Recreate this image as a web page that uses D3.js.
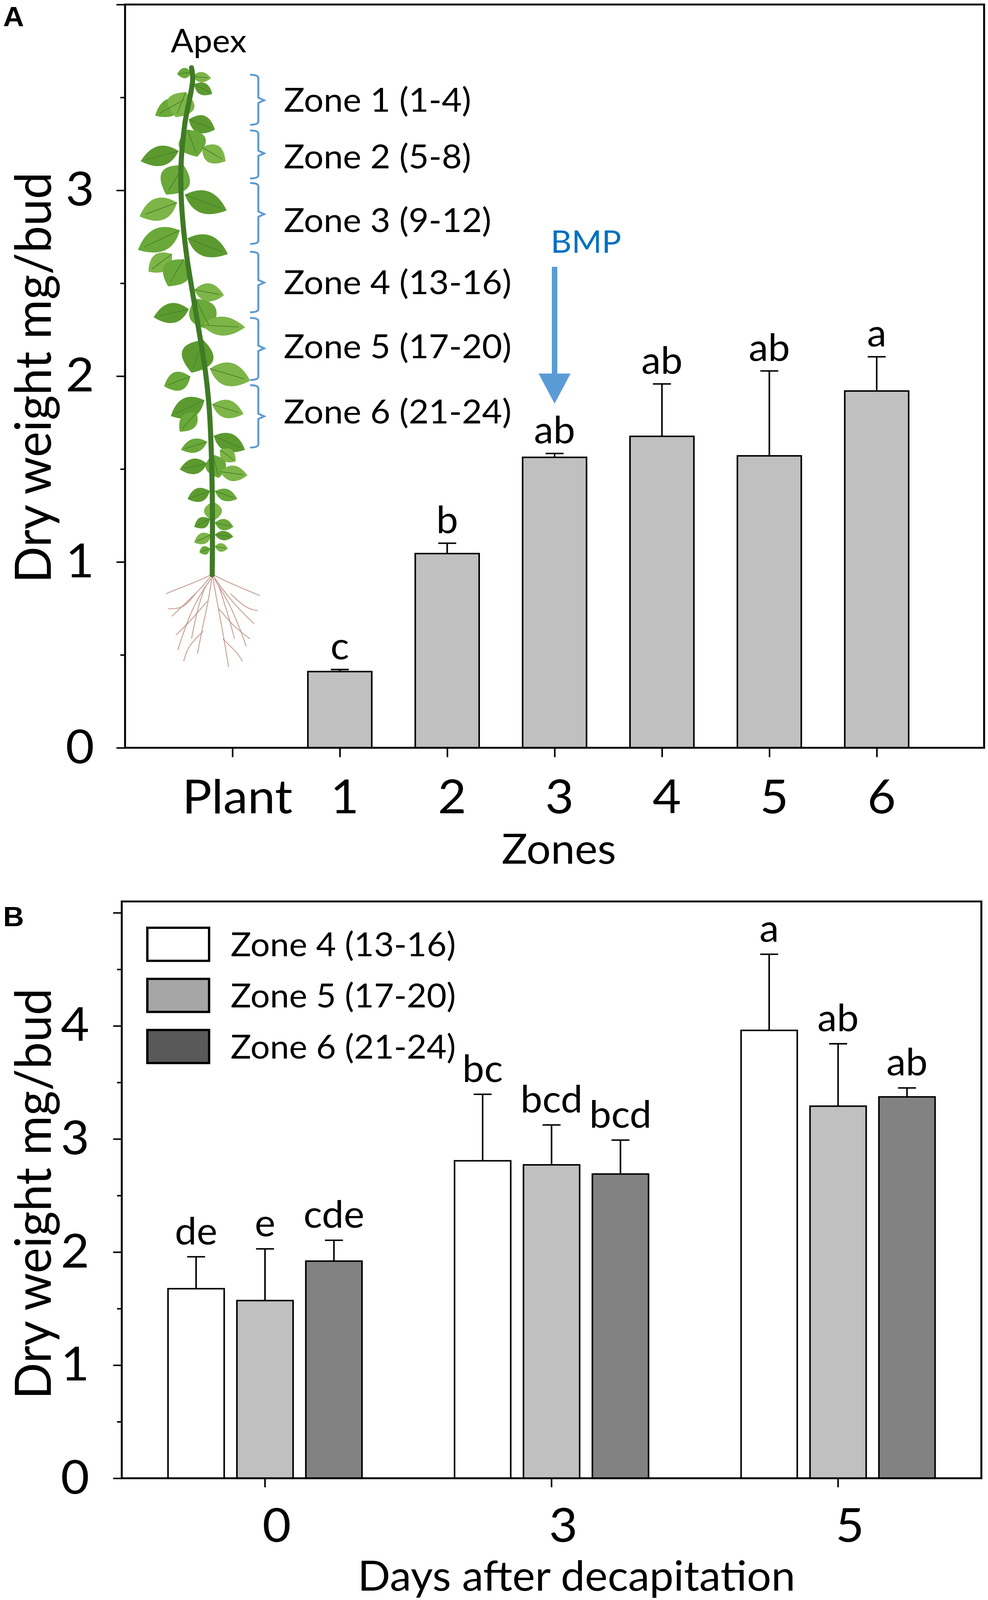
<!DOCTYPE html>
<html lang="en">
<head>
<meta charset="UTF-8">
<title>Bud dry weight</title>
<script src="https://d3js.org/d3.v7.min.js"></script>
<style>
    * { margin: 0; padding: 0; }
    html, body { background: #fff; overflow: hidden; }
    text { font-family: Lato, "Open Sans", sans-serif; fill: #000; }
    .panel-tag { font-family: "Liberation Sans", Arial, sans-serif; font-weight: bold; }
</style>
</head>
<body>
<script>
// ---- data, panel A ----
var zonesA = ["Plant", "1", "2", "3", "4", "5", "6"];
var meanA = [null, 0.41, 1.045, 1.563, 1.676, 1.571, 1.920];
var errA = [null, 0.011, 0.056, 0.021, 0.282, 0.457, 0.184];
var lettersA = ["", "c", "b", "ab", "ab", "ab", "a"];
var ticksA = [0, 1, 2, 3];
var zoneNames = ["Zone 1 (1-4)", "Zone 2 (5-8)", "Zone 3 (9-12)", "Zone 4 (13-16)", "Zone 5 (17-20)", "Zone 6 (21-24)"];

// ---- data, panel B ----
var days = ["0", "3", "5"];
var seriesB = ["Zone 4 (13-16)", "Zone 5 (17-20)", "Zone 6 (21-24)"];
var meanB = [[1.676, 1.571, 1.920], [2.807, 2.771, 2.690], [3.960, 3.290, 3.372]];
var errB = [[0.282, 0.457, 0.184], [0.588, 0.353, 0.300], [0.673, 0.552, 0.079]];
var lettersB = [["de", "e", "cde"], ["bc", "bcd", "bcd"], ["a", "ab", "ab"]];
var ticksB = [0, 1, 2, 3, 4];

// colours
var barFillB = ["#ffffff", "#c0c0c0", "#828282"];
var legendFillB = ["#ffffff", "#a6a6a6", "#595959"];
var blue = "#5b9bd5";

// ---- annotation layout for the plant sketch (pixel space) ----
var bracketRows = [[199, 332, 267], [347, 475, 408], [487, 649, 570], [670, 831, 752], [846, 1011, 927], [1025, 1191, 1108]];
var zoneBaselines = [297, 448, 618, 783, 953, 1127];
var stemPts = [[490, 180], [493, 213], [473, 329], [463, 445], [465, 550], [477, 676], [493, 781], [510, 886], [526, 992], [536, 1097], [543, 1307], [543, 1530]];
// base x, base y, tip x, tip y, width
var leaves = [
    [490, 192, 453, 197, 24], [493, 203, 540, 208, 24], [497, 224, 543, 250, 28],
    [470, 266, 397, 308, 40], [475, 245, 450, 312, 62], [483, 318, 550, 345, 42],
    [480, 345, 505, 417, 62], [517, 392, 577, 429, 44], [457, 402, 360, 429, 46],
    [470, 440, 425, 518, 68], [453, 539, 357, 576, 52], [473, 518, 580, 560, 52],
    [460, 613, 353, 665, 54], [440, 676, 380, 723, 44], [480, 634, 583, 676, 50],
    [470, 690, 430, 762, 62], [497, 771, 573, 786, 42], [483, 823, 393, 844, 46],
    [500, 795, 540, 877, 62], [517, 865, 627, 871, 44], [520, 905, 490, 992, 72],
    [487, 1002, 420, 1028, 44], [537, 981, 640, 1013, 54], [523, 1065, 437, 1107, 48],
    [503, 1097, 460, 1149, 38], [543, 1076, 623, 1102, 42], [547, 1160, 627, 1197, 42],
    [530, 1176, 463, 1197, 32], [563, 1197, 603, 1228, 32], [530, 1234, 460, 1249, 36],
    [545, 1210, 560, 1272, 46], [563, 1255, 633, 1265, 36], [537, 1307, 480, 1328, 32],
    [550, 1307, 607, 1328, 28], [545, 1335, 545, 1387, 40], [537, 1381, 497, 1402, 26],
    [550, 1391, 597, 1402, 26], [540, 1423, 497, 1444, 26], [550, 1423, 597, 1428, 22],
    [537, 1460, 510, 1470, 20], [550, 1454, 583, 1460, 20]
];
var roots = [
    [[543, 1528], [520, 1560], [480, 1600], [440, 1640]],
    [[543, 1528], [510, 1545], [460, 1565], [425, 1580]],
    [[543, 1528], [580, 1548], [630, 1570], [665, 1585]],
    [[543, 1528], [570, 1570], [610, 1620], [650, 1660]],
    [[543, 1528], [535, 1590], [520, 1660], [505, 1740]],
    [[543, 1528], [555, 1600], [570, 1680], [585, 1775]],
    [[540, 1540], [500, 1600], [470, 1680], [455, 1730]],
    [[548, 1540], [590, 1610], [620, 1690], [630, 1720]],
    [[530, 1600], [490, 1650], [450, 1690]],
    [[560, 1620], [600, 1670], [640, 1700]],
    [[520, 1680], [480, 1720], [470, 1760]],
    [[570, 1700], [610, 1740], [620, 1760]],
    [[500, 1580], [470, 1620], [430, 1620]],
    [[590, 1580], [630, 1620], [660, 1625]],
    [[525, 1560], [505, 1620], [490, 1700]],
    [[560, 1560], [585, 1640], [600, 1700]]
];

// the drawing is laid out on a 2528 x 4258 sheet, fitted to the window
var svg = d3.select("body").append("svg")
    .attr("width", window.innerWidth)
    .attr("height", window.innerHeight)
    .attr("viewBox", "0 0 2528 4258")
    .attr("preserveAspectRatio", "none")
    .style("display", "block");

function leafPath(l) {
    var dx = l[2] - l[0], dy = l[3] - l[1];
    var len = Math.sqrt(dx * dx + dy * dy);
    var nx = -dy / len, ny = dx / len;
    var mx = l[0] + dx * 0.45, my = l[1] + dy * 0.45;
    var w = l[4] * 1.15;
    return "M" + l[0] + "," + l[1] +
        "Q" + (mx + nx * w) + "," + (my + ny * w) + " " + l[2] + "," + l[3] +
        "Q" + (mx - nx * w) + "," + (my - ny * w) + " " + l[0] + "," + l[1] + "Z";
}

// =================== PANEL A ===================
var xA = d3.scalePoint().domain(zonesA).range([320, 2518]).padding(1);
var yA = d3.scaleLinear().domain([0, 4]).range([1990, 12]);
var bwA = xA.step() * 0.595;
var gA = svg.append("g");

var dataA = zonesA.map(function (z, i) {
    return { zone: z, mean: meanA[i], err: errA[i], letter: lettersA[i] };
}).filter(function (d) { return d.mean !== null; });

gA.selectAll(".barA")
    .data(dataA)
    .enter()
    .append("rect")
    .attr("x", function (d) { return xA(d.zone) - bwA / 2; })
    .attr("y", function (d) { return yA(d.mean); })
    .attr("width", bwA)
    .attr("height", function (d) { return yA(0) - yA(d.mean); })
    .attr("fill", "#c0c0c0")
    .attr("stroke", "#000")
    .attr("stroke-width", 4);

gA.selectAll(".errA")
    .data(dataA)
    .enter()
    .append("path")
    .attr("d", function (d) {
        var cx = xA(d.zone), t = yA(d.mean + d.err);
        return "M" + cx + "," + yA(d.mean) + "V" + t + "M" + (cx - 23) + "," + t + "H" + (cx + 23);
    })
    .attr("stroke", "#000")
    .attr("stroke-width", 4)
    .attr("fill", "none");

gA.selectAll(".letA")
    .data(dataA)
    .enter()
    .append("text")
    .attr("x", function (d) { return xA(d.zone); })
    .attr("y", function (d) { return yA(d.mean + d.err) - 27; })
    .attr("text-anchor", "middle")
    .attr("font-size", 100)
    .text(function (d) { return d.letter; });

// frame
gA.append("rect")
    .attr("x", 320).attr("y", 12)
    .attr("width", 2198).attr("height", 1978)
    .attr("fill", "none").attr("stroke", "#000").attr("stroke-width", 5);

// y axis
gA.append("g").attr("transform", "translate(320,0)")
    .call(d3.axisLeft(yA).tickValues([0, 1, 2, 3, 4]).tickSize(22).tickPadding(57)
        .tickFormat(function (v) { return ticksA.indexOf(v) >= 0 ? v : ""; }));
gA.append("g").attr("transform", "translate(320,0)")
    .call(d3.axisLeft(yA).tickValues([0.5, 1.5, 2.5, 3.5]).tickSize(12).tickFormat(""));

// x axis
var xAxA = gA.append("g").attr("transform", "translate(0,1990)")
    .call(d3.axisBottom(xA).tickSize(25).tickPadding(60));
xAxA.selectAll("text").attr("dx", 12);

gA.selectAll(".domain").remove();
gA.selectAll(".tick line").attr("stroke-width", 4);
gA.selectAll(".tick text").attr("font-size", 126).attr("font-family", "Lato, sans-serif");

gA.append("text")
    .attr("x", 1430).attr("y", 2298)
    .attr("text-anchor", "middle").attr("font-size", 110)
    .text("Zones");

gA.append("text")
    .attr("transform", "translate(130,1005) rotate(-90)")
    .attr("text-anchor", "middle").attr("font-size", 128)
    .text("Dry weight mg/bud");

gA.append("text").attr("class", "panel-tag")
    .attr("x", 8).attr("y", 70).attr("font-size", 74).text("A");

// plant sketch
var plant = gA.append("g");
var rootLine = d3.line().curve(d3.curveBasis);
plant.selectAll(".root")
    .data(roots)
    .enter()
    .append("path")
    .attr("d", rootLine)
    .attr("fill", "none")
    .attr("stroke", "#b98676")
    .attr("stroke-width", 2.5)
    .attr("opacity", 0.75);

var leafCols = ["#6aa83a", "#7db548", "#5c9a30"];
plant.selectAll(".leaf")
    .data(leaves)
    .enter()
    .append("path")
    .attr("d", leafPath)
    .attr("fill", function (d, i) { return leafCols[i % 3]; });
plant.selectAll(".rib")
    .data(leaves)
    .enter()
    .append("line")
    .attr("x1", function (d) { return d[0]; })
    .attr("y1", function (d) { return d[1]; })
    .attr("x2", function (d) { return d[0] + (d[2] - d[0]) * 0.85; })
    .attr("y2", function (d) { return d[1] + (d[3] - d[1]) * 0.85; })
    .attr("stroke", "#4a8428")
    .attr("stroke-width", 2);
plant.append("path")
    .attr("d", d3.line().curve(d3.curveCatmullRom)(stemPts))
    .attr("fill", "none")
    .attr("stroke", "#3f7a25")
    .attr("stroke-width", 13)
    .attr("stroke-linecap", "round");

gA.append("text")
    .attr("x", 534).attr("y", 139)
    .attr("text-anchor", "middle").attr("font-size", 86)
    .text("Apex");

// zone brackets and labels
gA.selectAll(".bracket")
    .data(bracketRows)
    .enter()
    .append("path")
    .attr("d", function (r) {
        return "M640," + r[0] + "Q661," + r[0] + " 661," + (r[0] + 9) +
            "V" + (r[2] - 7) + "L676," + r[2] + "L661," + (r[2] + 7) +
            "V" + (r[1] - 9) + "Q661," + r[1] + " 640," + r[1];
    })
    .attr("fill", "none")
    .attr("stroke", blue)
    .attr("stroke-width", 5);

gA.selectAll(".zoneName")
    .data(zoneNames)
    .enter()
    .append("text")
    .attr("x", 726)
    .attr("y", function (d, i) { return zoneBaselines[i]; })
    .attr("font-size", 89)
    .text(function (d) { return d; });

// BMP arrow
var ax = xA("3");
gA.append("path")
    .attr("d", "M" + (ax - 7) + ",710H" + (ax + 7) + "V994H" + (ax + 41) + "L" + ax + ",1074L" + (ax - 41) + ",994H" + (ax - 7) + "Z")
    .attr("fill", blue);
gA.append("text")
    .attr("x", ax - 10).attr("y", 673)
    .attr("font-size", 83)
    .style("fill", "#0070c0")
    .text("BMP");

// =================== PANEL B ===================
var x0 = d3.scaleBand().domain(days).range([311.5, 2511]);
var x1 = d3.scaleBand().domain(seriesB).range([-264.5, 264.5]).paddingInner(0.185).paddingOuter(0.0925);
var yB = d3.scaleLinear().domain([0, 5.1]).range([3934, 2399]);
var gB = svg.append("g");

var dataB = [];
days.forEach(function (d, i) {
    seriesB.forEach(function (s, j) {
        dataB.push({ day: d, s: s, j: j, mean: meanB[i][j], err: errB[i][j], letter: lettersB[i][j] });
    });
});
function cxB(d) { return x0(d.day) + x0.bandwidth() / 2 + x1(d.s) + x1.bandwidth() / 2; }

gB.selectAll(".barB")
    .data(dataB)
    .enter()
    .append("rect")
    .attr("x", function (d) { return cxB(d) - x1.bandwidth() / 2; })
    .attr("y", function (d) { return yB(d.mean); })
    .attr("width", x1.bandwidth())
    .attr("height", function (d) { return yB(0) - yB(d.mean); })
    .attr("fill", function (d) { return barFillB[d.j]; })
    .attr("stroke", "#000")
    .attr("stroke-width", 4);

gB.selectAll(".errB")
    .data(dataB)
    .enter()
    .append("path")
    .attr("d", function (d) {
        var cx = cxB(d), t = yB(d.mean + d.err);
        return "M" + cx + "," + yB(d.mean) + "V" + t + "M" + (cx - 23) + "," + t + "H" + (cx + 23);
    })
    .attr("stroke", "#000")
    .attr("stroke-width", 4)
    .attr("fill", "none");

gB.selectAll(".letB")
    .data(dataB)
    .enter()
    .append("text")
    .attr("x", cxB)
    .attr("y", function (d) { return yB(d.mean + d.err) - 33; })
    .attr("text-anchor", "middle")
    .attr("font-size", 100)
    .text(function (d) { return d.letter; });

gB.append("rect")
    .attr("x", 311.5).attr("y", 2399)
    .attr("width", 2199.5).attr("height", 1535)
    .attr("fill", "none").attr("stroke", "#000").attr("stroke-width", 5);

gB.append("g").attr("transform", "translate(311.5,0)")
    .call(d3.axisLeft(yB).tickValues([0, 1, 2, 3, 4, 5]).tickSize(22).tickPadding(61)
        .tickFormat(function (v) { return ticksB.indexOf(v) >= 0 ? v : ""; }));
gB.append("g").attr("transform", "translate(311.5,0)")
    .call(d3.axisLeft(yB).tickValues([0.5, 1.5, 2.5, 3.5, 4.5]).tickSize(12).tickFormat(""));

var xAxB = gB.append("g").attr("transform", "translate(0,3934)")
    .call(d3.axisBottom(x0).tickSize(24).tickPadding(56));
xAxB.selectAll("text").attr("dx", 30);

gB.selectAll(".domain").remove();
gB.selectAll(".tick line").attr("stroke-width", 4);
gB.selectAll(".tick text").attr("font-size", 126).attr("font-family", "Lato, sans-serif");

gB.append("text")
    .attr("x", 1475).attr("y", 4233)
    .attr("text-anchor", "middle").attr("font-size", 110)
    .text("Days after decapitation");

gB.append("text")
    .attr("transform", "translate(130,3177) rotate(-90)")
    .attr("text-anchor", "middle").attr("font-size", 128)
    .text("Dry weight mg/bud");

gB.append("text").attr("class", "panel-tag")
    .attr("x", 8).attr("y", 2465).attr("font-size", 74).text("B");

// legend
var leg = gB.selectAll(".leg")
    .data(seriesB)
    .enter()
    .append("g")
    .attr("transform", function (d, i) { return "translate(377," + (2469 + i * 136) + ")"; });
leg.append("rect")
    .attr("width", 158).attr("height", 88)
    .attr("fill", function (d, i) { return legendFillB[i]; })
    .attr("stroke", "#000").attr("stroke-width", 6);
leg.append("text")
    .attr("x", 213).attr("y", 76)
    .attr("font-size", 88)
    .text(function (d) { return d; });
</script>
</body>
</html>
